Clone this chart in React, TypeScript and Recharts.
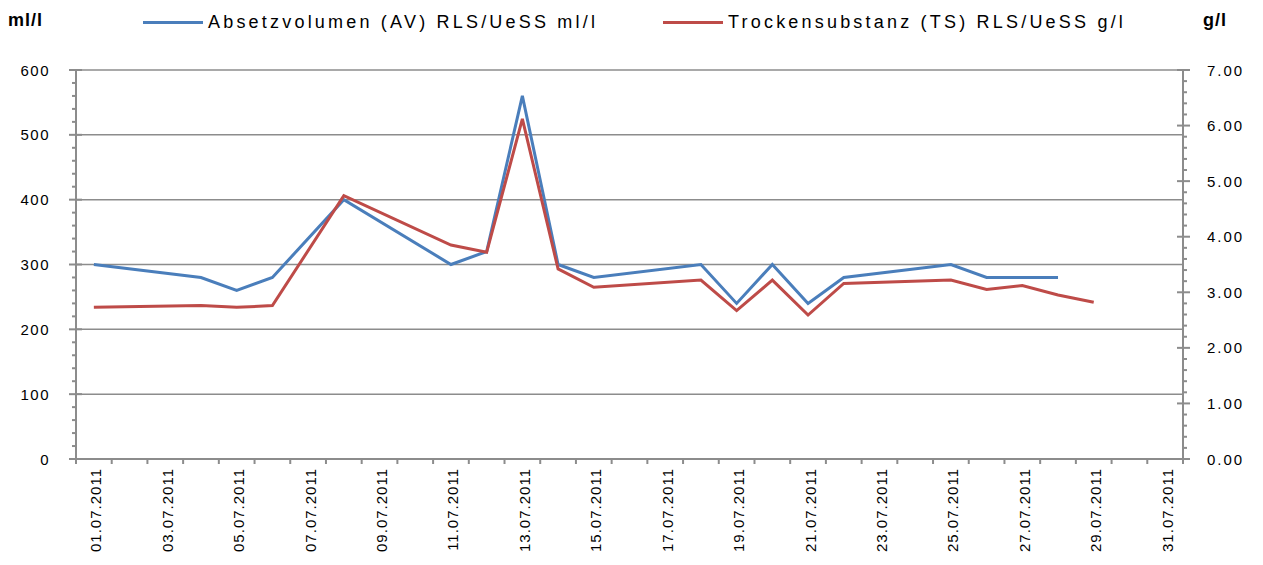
import React from 'react';
import { ComposedChart, Line, XAxis, YAxis, CartesianGrid } from 'recharts';

const dates = [
  '01.07.2011', '02.07.2011', '03.07.2011', '04.07.2011', '05.07.2011', '06.07.2011',
  '07.07.2011', '08.07.2011', '09.07.2011', '10.07.2011', '11.07.2011', '12.07.2011',
  '13.07.2011', '14.07.2011', '15.07.2011', '16.07.2011', '17.07.2011', '18.07.2011',
  '19.07.2011', '20.07.2011', '21.07.2011', '22.07.2011', '23.07.2011', '24.07.2011',
  '25.07.2011', '26.07.2011', '27.07.2011', '28.07.2011', '29.07.2011', '30.07.2011',
  '31.07.2011',
];

// ml/l, left axis
const absetzvolumen: (number | null)[] = [
  300, null, null, 280, 260, 280, null, 400, null, null, 300, 320,
  560, 300, 280, null, null, 300, 240, 300, 240, 280, null, null,
  300, 280, 280, 280, null, null, null,
];

// g/l, right axis
const trockensubstanz: (number | null)[] = [
  2.73, null, null, 2.76, 2.73, 2.76, null, 4.74, null, null, 3.85, 3.72,
  6.12, 3.42, 3.09, null, null, 3.22, 2.67, 3.22, 2.59, 3.16, null, null,
  3.22, 3.05, 3.12, 2.95, 2.82, null, null,
];

const leftTicks = [0, 100, 200, 300, 400, 500, 600];
const rightTicks = [0, 1, 2, 3, 4, 5, 6, 7];

const series = [
  { key: 'av', axis: 'left', name: 'Absetzvolumen (AV) RLS/UeSS ml/l', color: '#4a7ebb' },
  { key: 'ts', axis: 'right', name: 'Trockensubstanz (TS) RLS/UeSS g/l', color: '#be4b48' },
];

const FONT = '"Liberation Sans", Arial, sans-serif';
const AXIS = '#8c8c8c';

const data = dates.map((d, i) => ({
  day: i + 1,
  av: absetzvolumen[i],
  ts: trockensubstanz[i],
}));

// minor ticks every 20 ml/l and every 0.2 g/l, day boundaries on x
const leftMinor = Array.from({ length: 31 }, (_, i) => i * 20);
const rightMinor = Array.from({ length: 36 }, (_, i) => Math.round(i * 2) / 10);
const xTicks = Array.from({ length: dates.length * 2 + 1 }, (_, i) => 0.5 + i / 2);

const isWhole = (v: number) => Math.abs(v - Math.round(v)) < 1e-6;

const LeftTick = (props: any) => {
  const { x, y, payload } = props;
  const major = leftTicks.includes(payload.value);
  return (
    <g>
      <line x1={x - (major ? 7 : 4)} x2={major ? x + 6 : x} y1={y} y2={y} stroke={AXIS} strokeWidth={2} />
      {major && (
        <text x={x - 26} y={y} textAnchor="end" dominantBaseline="central"
          fontSize={15} letterSpacing={1.5} fontFamily={FONT} fill="#000">
          {payload.value}
        </text>
      )}
    </g>
  );
};

const RightTick = (props: any) => {
  const { x, y, payload } = props;
  const major = isWhole(payload.value) && rightTicks.includes(Math.round(payload.value));
  return (
    <g>
      <line x1={major ? x - 6 : x} x2={x + (major ? 7 : 4)} y1={y} y2={y} stroke={AXIS} strokeWidth={2} />
      {major && (
        <text x={x + 24} y={y} textAnchor="start" dominantBaseline="central"
          fontSize={15} letterSpacing={2} fontFamily={FONT} fill="#000">
          {payload.value.toFixed(2)}
        </text>
      )}
    </g>
  );
};

const DateTick = (props: any) => {
  const { x, y, payload } = props;
  const v = payload.value;
  if (!isWhole(v)) {
    return <line x1={x} x2={x} y1={y} y2={y + 5} stroke={AXIS} strokeWidth={2} />;
  }
  if (v % 2 === 0) return <g />;
  const ty = y + 9;
  return (
    <text x={x + 2} y={ty} transform={`rotate(-90, ${x + 2}, ${ty})`} textAnchor="end"
      dominantBaseline="central" fontSize={15} letterSpacing={1} fontFamily={FONT} fill="#000">
      {dates[v - 1]}
    </text>
  );
};

export default function App() {
  return (
    <div style={{ position: 'absolute', left: 0, top: 0, width: 1263, height: 565, fontFamily: FONT, background: '#fff' }}>
      <div style={{ position: 'absolute', left: 8, top: 10, fontSize: 18, fontWeight: 'bold', letterSpacing: 1 }}>ml/l</div>
      <div style={{ position: 'absolute', left: 1203, top: 10, fontSize: 18, fontWeight: 'bold', letterSpacing: 1 }}>g/l</div>
      {series.map((s, i) => (
        <div key={s.key} style={{ position: 'absolute', left: i === 0 ? 143 : 663, top: 10, display: 'flex', alignItems: 'center', height: 24 }}>
          <div style={{ width: 60, height: 3, background: s.color, marginRight: 5 }} />
          <span style={{ fontSize: 18, letterSpacing: 3.2, whiteSpace: 'nowrap' }}>{s.name}</span>
        </div>
      ))}
      <ComposedChart width={1263} height={565} data={data} margin={{ top: 70, right: 0, bottom: 0, left: 0 }}>
        <CartesianGrid yAxisId="left" vertical={false} horizontalValues={leftTicks} stroke={AXIS} strokeWidth={1.5} />
        <XAxis dataKey="day" type="number" domain={[0.5, dates.length + 0.5]} ticks={xTicks}
          interval={0} height={106} tickSize={0} tickMargin={0} tickLine={false}
          axisLine={{ stroke: AXIS, strokeWidth: 2 }} tick={<DateTick />} allowDecimals />
        <YAxis yAxisId="left" orientation="left" width={76} domain={[0, 600]} ticks={leftMinor}
          interval={0} tickSize={0} tickMargin={0} tickLine={false}
          axisLine={{ stroke: AXIS, strokeWidth: 2 }} tick={<LeftTick />} />
        <YAxis yAxisId="right" orientation="right" width={80} domain={[0, 7]} ticks={rightMinor}
          interval={0} tickSize={0} tickMargin={0} tickLine={false}
          axisLine={{ stroke: AXIS, strokeWidth: 2 }} tick={<RightTick />} />
        {series.map((s) => (
          <Line key={s.key} yAxisId={s.axis} dataKey={s.key} name={s.name} stroke={s.color}
            strokeWidth={3} dot={false} connectNulls isAnimationActive={false} type="linear" />
        ))}
      </ComposedChart>
    </div>
  );
}
